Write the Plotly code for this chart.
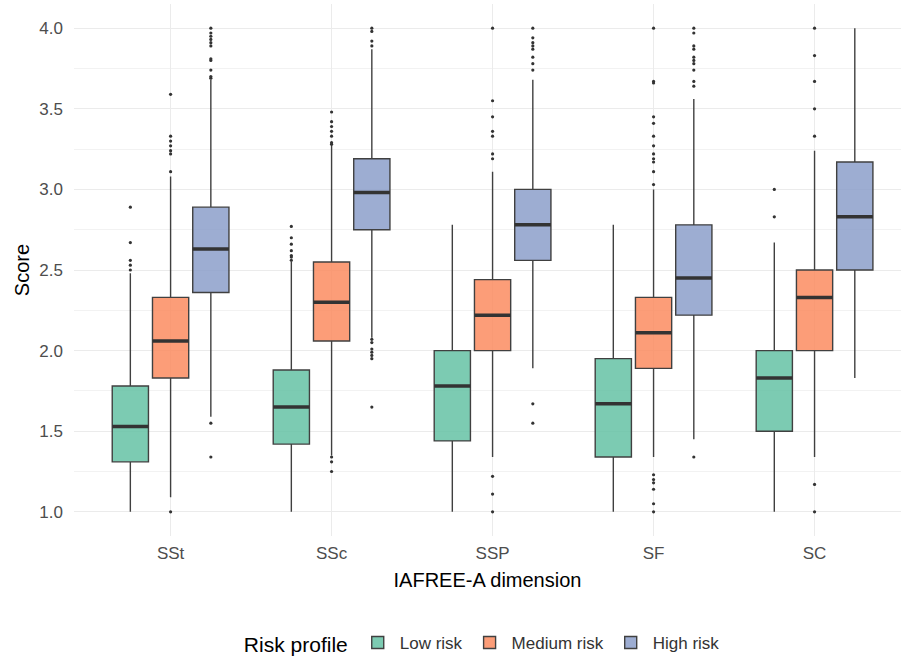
import plotly.graph_objects as go

categories = ["SSt", "SSc", "SSP", "SF", "SC"]
risk_levels = ["Low risk", "Medium risk", "High risk"]

low_q1 = [1.31, 1.42, 1.44, 1.34, 1.50]
low_med = [1.53, 1.65, 1.78, 1.67, 1.83]
low_q3 = [1.78, 1.88, 2.00, 1.95, 2.00]
low_lo = [1.00, 1.00, 1.00, 1.00, 1.00]
low_hi = [2.48, 2.55, 2.78, 2.78, 2.67]
low_out = [
    [2.89, 2.67, 2.56, 2.53, 2.50],
    [2.77, 2.70, 2.66, 2.62, 2.59, 2.58, 2.56],
    [],
    [],
    [3.00, 2.83],
]

med_q1 = [1.83, 2.06, 2.00, 1.89, 2.00]
med_med = [2.06, 2.30, 2.22, 2.11, 2.33]
med_q3 = [2.33, 2.55, 2.44, 2.33, 2.50]
med_lo = [1.09, 1.35, 1.34, 1.34, 1.34]
med_hi = [3.08, 3.29, 3.11, 3.00, 3.24]
med_out = [
    [1.00, 3.11, 3.22, 3.24, 3.27, 3.30, 3.33, 3.59],
    [1.34, 1.31, 1.25, 3.28, 3.29, 3.33, 3.36, 3.39, 3.42, 3.48],
    [1.22, 1.11, 1.00, 3.19, 3.22, 3.33, 3.36, 3.45, 3.55, 4.00],
    [1.23, 1.20, 1.18, 1.14, 1.05, 1.00, 3.03, 3.11, 3.17, 3.19, 3.22, 3.27,
     3.33, 3.41, 3.45, 3.66, 3.67, 4.00],
    [1.17, 1.00, 3.33, 3.50, 3.67, 3.83, 4.00],
]

high_q1 = [2.36, 2.75, 2.56, 2.22, 2.50]
high_med = [2.63, 2.98, 2.78, 2.45, 2.83]
high_q3 = [2.89, 3.19, 3.00, 2.78, 3.17]
high_lo = [1.59, 2.08, 1.89, 1.45, 1.83]
high_hi = [3.68, 3.87, 3.68, 3.56, 4.00]
high_out = [
    [1.55, 1.34, 3.69, 3.70, 3.74, 3.80, 3.81, 3.89, 3.91, 3.93, 3.95, 3.97, 4.00],
    [2.07, 2.05, 2.01, 1.99, 1.97, 1.95, 1.65, 3.89, 3.92, 3.98, 4.00],
    [1.67, 1.55, 3.74, 3.78, 3.82, 3.87, 3.89, 3.91, 3.94, 4.00],
    [1.34, 3.64, 3.67, 3.74, 3.78, 3.80, 3.82, 3.87, 3.89, 3.97, 4.00],
    [],
]

fills = ["rgba(102,194,165,0.86)", "rgba(252,141,98,0.86)", "rgba(141,160,203,0.86)"]
stats = [
    (low_q1, low_med, low_q3, low_lo, low_hi, low_out),
    (med_q1, med_med, med_q3, med_lo, med_hi, med_out),
    (high_q1, high_med, high_q3, high_lo, high_hi, high_out),
]

FONT = "Liberation Sans, Arial, sans-serif"
dodge = 0.25
bw = 0.225
outline = "#404040"

fig = go.Figure()
for g, (name, fill, st) in enumerate(zip(risk_levels, fills, stats)):
    q1, med, q3, lo, hi, outs = st
    off = (g - 1) * dodge
    xs = [i + 1 + off for i in range(len(categories))]
    fig.add_trace(go.Box(
        name=name, x=xs, q1=q1, median=med, q3=q3,
        lowerfence=lo, upperfence=hi, width=bw,
        fillcolor=fill, line=dict(color=outline, width=1.4),
        whiskerwidth=0, boxpoints=False, hoverinfo="skip",
        legendgroup=name,
    ))
    # thicker median lines
    mx, my = [], []
    for x, m in zip(xs, med):
        mx += [x - bw / 2, x + bw / 2, None]
        my += [m, m, None]
    fig.add_trace(go.Scatter(x=mx, y=my, mode="lines",
                             line=dict(color="#333333", width=3.5),
                             showlegend=False, hoverinfo="skip"))
    ox, oy = [], []
    for x, vals in zip(xs, outs):
        ox += [x] * len(vals)
        oy += vals
    fig.add_trace(go.Scatter(x=ox, y=oy, mode="markers",
                             marker=dict(color="#333333", size=3.2),
                             showlegend=False, hoverinfo="skip"))

fig.update_layout(
    width=901, height=657,
    margin=dict(l=74, r=0, t=4, b=121, autoexpand=False),
    plot_bgcolor="white", paper_bgcolor="white",
    font=dict(family=FONT, color="#000000"),
    boxmode="overlay",
    showlegend=True,
    legend=dict(
        orientation="h", x=0.495, xanchor="center", y=-0.203, yanchor="middle",
        title=dict(text="Risk profile", font=dict(size=21, color="#000000"), side="left"),
        font=dict(size=17, color="#333333"),
        itemwidth=34,
    ),
    xaxis=dict(
        range=[0.4, 5.537], tickmode="array",
        tickvals=[i + 1 for i in range(len(categories))], ticktext=categories,
        showgrid=True, gridcolor="#ebebeb", gridwidth=1.3,
        zeroline=False, showline=False, ticks="",
        ticklabelstandoff=5,
        tickfont=dict(size=17, color="#4d4d4d"),
        title=dict(text="IAFREE-A dimension", font=dict(size=20, color="#000000"), standoff=10),
    ),
    yaxis=dict(
        range=[0.85, 4.15], tickmode="array",
        tickvals=[1.0, 1.5, 2.0, 2.5, 3.0, 3.5, 4.0],
        ticktext=["1.0", "1.5", "2.0", "2.5", "3.0", "3.5", "4.0"],
        showgrid=True, gridcolor="#ebebeb", gridwidth=1.3,
        minor=dict(tickvals=[1.25, 1.75, 2.25, 2.75, 3.25, 3.75],
                   showgrid=True, gridcolor="#f2f2f2", gridwidth=0.8),
        zeroline=False, showline=False, ticks="",
        ticklabelstandoff=10,
        tickfont=dict(size=17, color="#4d4d4d"),
        title=dict(text="Score", font=dict(size=20, color="#000000"), standoff=4),
    ),
)

fig.write_html(
    "out.html",
    config={"displayModeBar": False},
    post_script="document.body.style.margin='0';document.body.style.overflow='hidden';",
)
